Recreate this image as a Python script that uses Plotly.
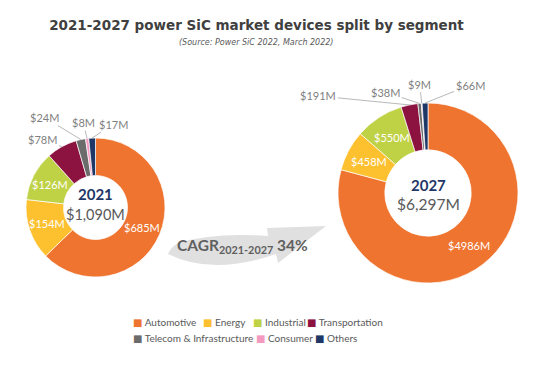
import math
import plotly.graph_objects as go

# ---------------- data ----------------
segments = ["Automotive", "Energy", "Industrial", "Transportation",
            "Telecom & Infrastructure", "Consumer", "Others"]
values_2021 = [685, 154, 126, 78, 24, 8, 17]
values_2027 = [4986, 458, 550, 191, 38, 9, 66]
years = ["2021", "2027"]
year_totals = ["$1,090M", "$6,297M"]
cagr_period = "2021-2027"
cagr_value = "34%"
seg_colors = ["#EE7430", "#FDC02F", "#BFD145", "#8C1340",
              "#6B6B6B", "#F49AC1", "#1F3767"]

# ---------------- layout helpers ----------------
# The page body has an 8px default margin, so the figure is drawn 8px in
# from the window's top-left corner; map window pixels to figure fractions.
W, H = 554, 379
OFF = 8
FW, FH = W - OFF, H - OFF
def fx(x):
    return (x - OFF) / FW
def fy(y):
    return 1 - (y - OFF) / FH

FONT = "Lato"
pie_specs = [
    dict(values=values_2021, cx=95.5, cy=207.5, r=69.5, hole=0.46,
         inside=[0, 1, 2], dyear=-13.5, dtot=7, ysize=15, tsize=14.5,
         offsets={3: (-19, -7), 4: (-36, -22), 5: (-4, -16), 6: (21, -14)}),
    dict(values=values_2027, cx=428, cy=193, r=90, hole=0.48,
         inside=[0, 1, 2], dyear=-8, dtot=11, ysize=15, tsize=15.5,
         offsets={3: (-91, -9), 4: (-34, -11), 5: (-2, -19), 6: (45, -18)}),
]
# legend entry slots (window px of swatch left edge, row centre)
legend_slots = [(133, 322), (203, 322), (253, 322), (307, 322),
                (133, 338), (256, 338), (315, 338)]

fig = go.Figure()
annotations = []

for k, spec in enumerate(pie_specs):
    vals = spec["values"]
    texts = [f"${v}M" for v in vals]
    cx, cy, r = spec["cx"], spec["cy"], spec["r"]
    fig.add_trace(go.Pie(
        labels=segments, values=vals, text=texts, textinfo="none",
        marker=dict(colors=seg_colors, line=dict(color="white", width=0.7)),
        hole=spec["hole"], sort=False, direction="clockwise", rotation=0,
        showlegend=False, hoverinfo="label+value",
        domain=dict(x=[fx(cx - r), fx(cx + r)], y=[fy(cy + r), fy(cy - r)]),
    ))
    # slice labels placed at each slice's mid-angle
    total = sum(vals)
    r_mid = r * (1 + spec["hole"]) / 2
    cum = 0
    for i, v in enumerate(vals):
        mid = (cum + v / 2) / total
        cum += v
        th = 2 * math.pi * mid
        if i in spec["inside"]:
            annotations.append(dict(
                x=fx(cx + r_mid * math.sin(th)), y=fy(cy - r_mid * math.cos(th)),
                xref="paper", yref="paper", xanchor="center", yanchor="middle",
                text=texts[i], showarrow=False,
                font=dict(family=FONT, size=11, color="white")))
        else:
            ax, ay = spec["offsets"][i]
            annotations.append(dict(
                x=fx(cx + r * math.sin(th)), y=fy(cy - r * math.cos(th)),
                xref="paper", yref="paper",
                ax=ax, ay=ay, text=texts[i], showarrow=True, arrowhead=0,
                arrowwidth=0.8, arrowcolor="#A6A6A6", standoff=0, startstandoff=0,
                font=dict(family=FONT, size=11, color="#7F7F7F")))
    # center labels
    annotations.append(dict(x=fx(cx), y=fy(cy + spec["dyear"]), xref="paper", yref="paper",
                            xanchor="center", yanchor="middle",
                            text=f"<b>{years[k]}</b>", showarrow=False,
                            font=dict(family=FONT, size=spec["ysize"], color="#1F3767")))
    annotations.append(dict(x=fx(cx), y=fy(cy + spec["dtot"]), xref="paper", yref="paper",
                            xanchor="center", yanchor="middle",
                            text=year_totals[k], showarrow=False,
                            font=dict(family=FONT, size=spec["tsize"], color="#595959")))

# legend entries: one small legend per segment, laid out in two rows;
# the colour swatch is drawn as a coloured square glyph right before the name
legend_layouts = {}
for i, seg in enumerate(segments):
    lid = "legend" if i == 0 else f"legend{i + 1}"
    fig.add_trace(go.Scatter(
        x=[None], y=[None], mode="markers",
        name=f"<span style='color:{seg_colors[i]};font-family:DejaVu Sans;font-size:10px'>■</span> {seg}",
        marker=dict(symbol="square", size=1, color="rgba(0,0,0,0)"),
        legend=lid, hoverinfo="skip",
    ))
    sx, sy = legend_slots[i]
    legend_layouts[lid] = dict(
        x=fx(sx - 25), y=fy(sy), xanchor="left", yanchor="middle",
        orientation="h", indentation=-15, itemwidth=30,
        font=dict(family=FONT, size=10, color="#595959"),
        bgcolor="rgba(0,0,0,0)", itemclick=False, itemdoubleclick=False)

# CAGR arrow (decorative swoosh)
pts = lambda x, y: f"{fx(x):.5f},{fy(y):.5f}"
path = ("M " + pts(168, 254) + " Q " + pts(212, 276) + " " + pts(276, 254) +
        " L " + pts(278, 263) + " L " + pts(326, 226) + " L " + pts(267, 228) +
        " L " + pts(268, 236) + " Q " + pts(215, 232) + " " + pts(178, 243) +
        " Q " + pts(171, 247) + " " + pts(168, 254) + " Z")
shapes = [dict(type="path", xref="paper", yref="paper", path=path,
               fillcolor="#E0E0E0", line=dict(width=0), layer="below")]

annotations.append(dict(
    x=fx(242), y=fy(246), xref="paper", yref="paper", showarrow=False,
    xanchor="center", yanchor="middle",
    text=f"<b>CAGR<sub>{cagr_period}</sub> {cagr_value}</b>",
    font=dict(family=FONT, size=15.5, color="#5F5F5F")))

annotations.append(dict(
    x=fx(256), y=fy(43), xref="paper", yref="paper", showarrow=False,
    xanchor="center", yanchor="middle",
    text="<i>(Source: Power SiC 2022, March 2022)</i>",
    font=dict(family="DejaVu Sans", size=8, color="#595959")))

fig.update_layout(
    width=FW, height=FH,
    margin=dict(l=0, r=0, t=0, b=0),
    paper_bgcolor="white", plot_bgcolor="white",
    title=dict(text="<b>2021-2027 power SiC market devices split by segment</b>",
               x=fx(256.5), xanchor="center", y=fy(25), yanchor="middle",
               font=dict(family="DejaVu Sans", size=13.5, color="#404040")),
    xaxis=dict(visible=False), yaxis=dict(visible=False),
    annotations=annotations, shapes=shapes,
    **legend_layouts,
)

fig.write_html("out.html")
